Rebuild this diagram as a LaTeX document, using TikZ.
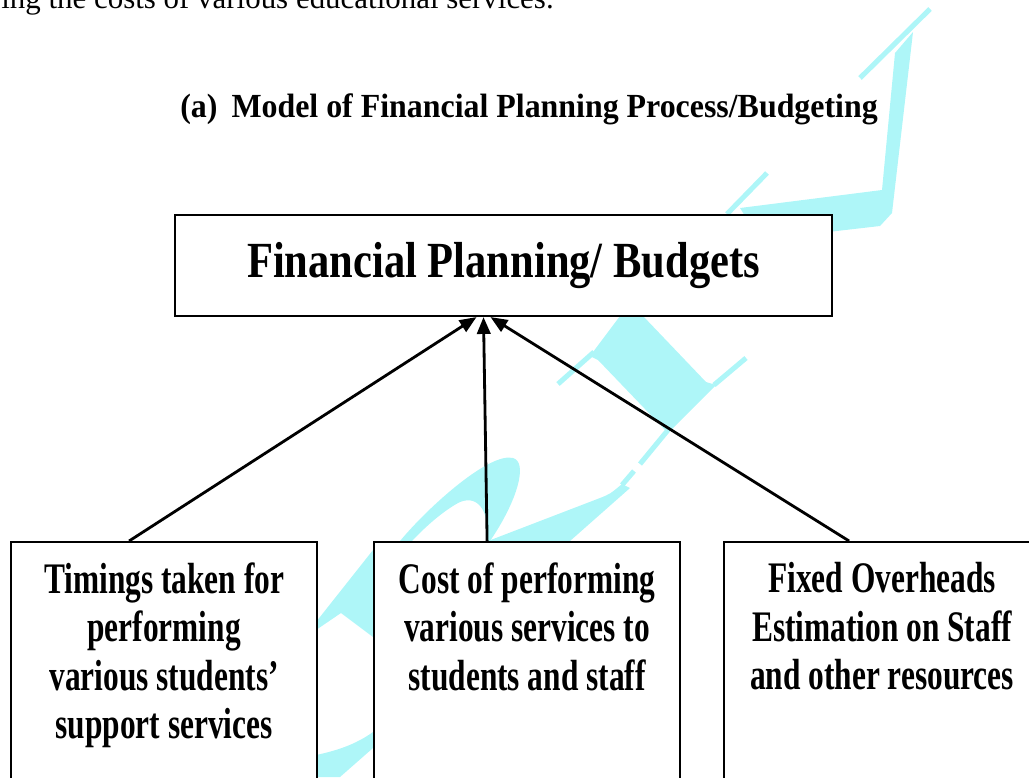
\documentclass[tikz,border=0pt]{standalone}
\usepackage{fontspec}
\setmainfont{Liberation Serif}
\newfontfamily\titlefont[FakeStretch=0.945]{Liberation Serif}
\newfontfamily\headfont[FakeStretch=0.84]{Liberation Serif}
\newfontfamily\cellfont[FakeStretch=0.72]{Liberation Serif}
\usetikzlibrary{arrows.meta, calc}

\definecolor{wcyan}{RGB}{174,246,248}

% text block of a lower box, set from the top
\newcommand{\celltext}[2][7.65cm]{\parbox[t][6.6cm][t]{#1}{\centering\cellfont\bfseries\fontsize{31}{34.5}\selectfont\vspace*{14.5pt}#2}}

\begin{document}
\begin{tikzpicture}[
        x=0.025cm, y=-0.025cm,
        >={Triangle[length=12pt,width=9.5pt]},
        wfill/.style={fill=wcyan, draw=none},
        wline/.style={draw=wcyan, line width=3.6pt},
        headbox/.style={draw, fill=white, line width=1.5pt, minimum width=16.425cm, minimum height=2.525cm, inner sep=0pt, font=\headfont\bfseries\fontsize{36}{40}\selectfont},
        cellbox/.style={draw, fill=white, line width=1.5pt, inner sep=0pt, anchor=north west},
        link/.style={->, line width=2pt}
    ]
        \useasboundingbox (0,0) rectangle (1029,777);
        \clip (0,0) rectangle (1029,777);

        % Watermark strokes (behind everything)
        \fill[wfill] (740,208) -- (882,190) -- (895,53) -- (913,32) -- (892,213) -- (880,226) -- (828,232) -- (760,240) -- cycle;
        \draw[wline] (930,9) -- (860,78);
        \draw[wline] (767,173) -- (727,214);
        \fill[wfill] (620,316) -- (643,316) -- (706,382) -- (716,385) -- (668,433) -- (598,360) -- (590,356) -- cycle;
        \draw[wline] (558,384) -- (594,352);
        \draw[wline] (714,385) -- (746,358);
        \draw[wline] (668,430) -- (640,464);
        \draw[wline] (634,471) -- (622,485);
        \fill[wfill] (488,541) -- (600,498) .. controls (610,494) .. (622,484) -- (630,488) -- (570,541) -- cycle;
        \fill[wfill] (400,541) .. controls (430,505) and (490,452) .. (513,458) .. controls (528,462) and (518,500) .. (490,541) -- (487,541) .. controls (490,515) and (480,494) .. (460,502) .. controls (444,510) and (424,528) .. (412,541) -- cycle;
        \fill[wfill] (316,622) -- (373,550) -- (373,637) -- (341,613) -- (316,630) -- cycle;
        \fill[wfill] (316,755) .. controls (335,751) and (355,745) .. (373,732) -- (373,748) -- (340,777) -- (316,777) -- cycle;

        % Text above the model
        \node[anchor=base west, inner sep=0pt, font=\fontsize{22}{26}\selectfont] (runon) at (1,8) {ing the costs of various educational services.};
        \node[anchor=base west, inner sep=0pt, font=\titlefont\bfseries\fontsize{24}{27}\selectfont] (title) at (180,117) {(a)\hspace{10pt}Model of Financial Planning Process/Budgeting};

        % Top Row
        \node[headbox] (budgets) at (503.5,265.5) {Financial Planning/ Budgets};

        % Bottom Row
        \node[cellbox] (timings) at (10,541) {\celltext{Timings taken for\\ performing\\ various students’\\ support services}};
        \node[cellbox] (costs) at (373,541) {\celltext{Cost of performing\\ various services to\\ students and staff}};
        \node[cellbox] (overheads) at (723,541) {\celltext[7.9cm]{Fixed Overheads\\ Estimation on Staff\\ and other resources}};

        % Arrows
        \draw[link] ($(timings.north)+(-35,0)$) -- ($(budgets.south)+(-27,0)$);
        \draw[link] ($(costs.north)+(-40,0)$) -- ($(budgets.south)+(-20,0)$);
        \draw[link] ($(overheads.north)+(-33,0)$) -- ($(budgets.south)+(-13,0)$);

    \end{tikzpicture}
\end{document}
